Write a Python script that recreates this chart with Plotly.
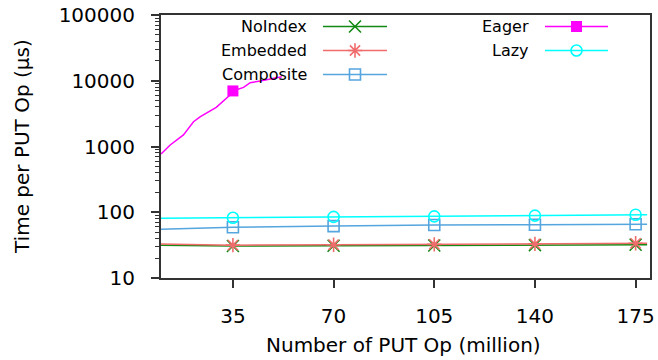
import plotly.graph_objects as go

# ---- data ----
x_flat = [10, 35, 70, 105, 140, 175, 179]
noindex = [31.4, 30.7, 30.9, 31.2, 31.6, 32.1, 32.1]
embedded = [32.9, 31.6, 32.0, 32.5, 33.0, 33.7, 33.8]
composite = [55, 59, 61.6, 64, 64.5, 65.6, 65.8]
lazy = [81, 82.6, 85, 86.7, 88.7, 91.8, 92]
marker_idx = [1, 2, 3, 4, 5]

x_eager = [10, 13.2, 17.8, 21.3, 23.7, 29.2, 34, 35, 38.7, 41, 44.5, 52]
eager = [770, 1055, 1500, 2380, 2840, 3950, 6070, 7000, 7940, 9350, 9900, 11500]
eager_marker_idx = [7]

x_ticks = [35, 70, 105, 140, 175]
y_ticks = [10, 100, 1000, 10000, 100000]

FONT = "DejaVu Sans"
series = [
    ("NoIndex", x_flat, noindex, marker_idx, "#138a13", "x-thin", dict(size=12, line=dict(width=1.6, color="#138a13"))),
    ("Embedded", x_flat, embedded, marker_idx, "#f06c6c", "asterisk", dict(size=12, line=dict(width=1.6, color="#f06c6c"))),
    ("Composite", x_flat, composite, marker_idx, "#55a5de", "square-open", dict(size=11, line=dict(width=1.6, color="#55a5de"))),
    ("Eager", x_eager, eager, eager_marker_idx, "#ff00ff", "square", dict(size=11, line=dict(width=0))),
    ("Lazy", x_flat, lazy, marker_idx, "#00ffff", "circle-open", dict(size=11, line=dict(width=1.6, color="#00ffff"))),
]

fig = go.Figure()
for name, xs, ys, idx, col, sym, mk in series:
    fig.add_trace(go.Scatter(x=xs, y=ys, mode="lines", line=dict(color=col, width=1.5),
                             showlegend=False, hoverinfo="skip"))
    fig.add_trace(go.Scatter(x=[xs[i] for i in idx], y=[ys[i] for i in idx], mode="markers",
                             marker=dict(symbol=sym, color=col, **mk), showlegend=False))

# ---- custom gnuplot-style legend (overlay axes in paper-like units) ----
L, R, T, B = 161, 650, 15, 278
def px(xp):
    return (xp - L) / (R - L)
def py(yp):
    return (B - yp) / (B - T)

legend_pos = [
    (309, 26.5, 323, 387, 355),
    (309, 50.5, 323, 387, 355),
    (309, 74.5, 323, 387, 355),
    (531, 26.5, 545, 608, 576.5),
    (531, 50.5, 545, 608, 576.5),
]
annotations = []
for (name, xs, ys, idx, col, sym, mk), (tx, ty, lx0, lx1, mx) in zip(series, legend_pos):
    fig.add_trace(go.Scatter(x=[px(lx0), px(lx1)], y=[py(ty), py(ty)], mode="lines",
                             line=dict(color=col, width=1.5), xaxis="x2", yaxis="y2",
                             showlegend=False, hoverinfo="skip"))
    fig.add_trace(go.Scatter(x=[px(mx)], y=[py(ty)], mode="markers",
                             marker=dict(symbol=sym, color=col, **mk), xaxis="x2", yaxis="y2",
                             showlegend=False, hoverinfo="skip"))
    annotations.append(dict(x=px(tx), y=py(ty), xref="paper", yref="paper", text=name,
                            showarrow=False, xanchor="right", yanchor="middle",
                            font=dict(family=FONT, size=16, color="black")))

# axis titles
annotations.append(dict(x=px(403), y=py(345), xref="paper", yref="paper",
                        text="Number of PUT Op (million)", showarrow=False,
                        xanchor="center", yanchor="middle", font=dict(family=FONT, size=20)))
annotations.append(dict(x=px(22), y=py(147), xref="paper", yref="paper",
                        text="Time per PUT Op (µs)", showarrow=False, textangle=-90,
                        xanchor="center", yanchor="middle", font=dict(family=FONT, size=20)))

fig.update_layout(
    width=658, height=360,
    margin=dict(l=L, r=658 - R, t=T, b=360 - B, autoexpand=False),
    paper_bgcolor="white", plot_bgcolor="white",
    showlegend=False,
    font=dict(family=FONT, size=20, color="black"),
    annotations=annotations,
    xaxis=dict(range=[10, 180], tickvals=x_ticks, ticktext=[str(v) for v in x_ticks],
               ticks="outside", ticklen=8, tickwidth=1.5, tickcolor="#333",
               showline=True, linecolor="#333", linewidth=2, mirror=True,
               showgrid=False, zeroline=False, ticklabelstandoff=11, automargin=False),
    yaxis=dict(type="log", range=[1, 5], tickvals=y_ticks, ticktext=[str(v) for v in y_ticks],
               ticks="outside", ticklen=8, tickwidth=1.5, tickcolor="#333",
               minor=dict(ticks="outside", ticklen=4, tickwidth=1.2, tickcolor="#333", dtick="D1", showgrid=False),
               showline=True, linecolor="#333", linewidth=2, mirror=True,
               showgrid=False, zeroline=False, ticklabelstandoff=12, automargin=False),
    xaxis2=dict(overlaying="x", range=[0, 1], visible=False, fixedrange=True),
    yaxis2=dict(overlaying="y", range=[0, 1], visible=False, fixedrange=True),
)

fig.write_html("out.html", config={"displayModeBar": False},
               post_script="document.body.style.margin='0';document.body.style.padding='0';document.body.style.overflow='hidden';")
